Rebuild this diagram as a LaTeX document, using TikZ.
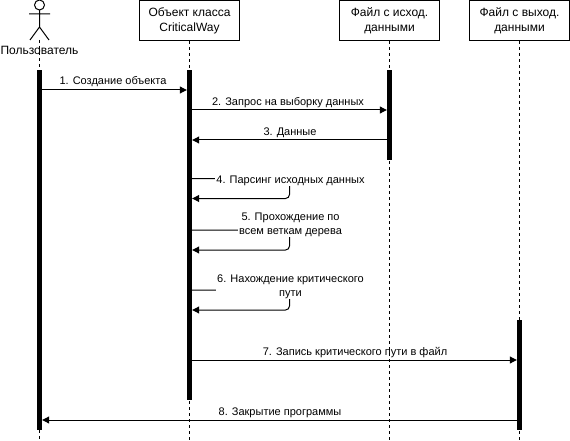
\documentclass[tikz,border=0pt]{standalone}
\usepackage{fontspec}
\setmainfont{Liberation Sans}
\usetikzlibrary{arrows.meta}
\tikzset{
    head/.style={draw, line width=1pt, minimum width=100pt, minimum height=40pt, inner sep=0pt, align=center, font=\fontsize{12}{15}\selectfont},
    lifeline/.style={line width=1pt, dash pattern=on 3pt off 3pt},
    activebar/.style={fill=black, inner sep=0pt, minimum width=5pt},
    msg/.style={line width=1pt, -{Triangle[length=7pt, width=7pt]}},
    msglabel/.style={inner sep=1pt, align=center, font=\fontsize{11}{14}\selectfont}
}
\begin{document}
\begin{tikzpicture}[x=1pt, y=-1pt]
    \useasboundingbox (0,0) rectangle (570,441);

    % Actor
    \draw[line width=1pt] (39.5,5) circle (5pt);
    \draw[line width=1pt] (39.5,10) -- (39.5,27) (29,14) -- (50,14) (30,40) -- (39.5,27) -- (49,40);
    \coordinate (actorFoot) at (39.5,40);

    % Heads
    \node[head] (objHead) at (189.5,20.5) {Объект класса\\CriticalWay};
    \node[head] (inHead) at (389.5,20.5) {Файл с исход.\\данными};
    \node[head] (outHead) at (519.5,20.5) {Файл с выход.\\данными};

    % Lifelines
    \coordinate (userEnd) at (39.5,441);
    \coordinate (objEnd) at (189.5,441);
    \coordinate (inEnd) at (389.5,441);
    \coordinate (outEnd) at (519.5,441);
    \draw[lifeline] (actorFoot) -- (userEnd);
    \draw[lifeline] (objHead) -- (objEnd);
    \draw[lifeline] (inHead) -- (inEnd);
    \draw[lifeline] (outHead) -- (outEnd);

    \node[font=\fontsize{12}{14}\selectfont, inner sep=0pt] (userLabel) at (39.5,50) {Пользователь};

    % Activation bars
    \node[activebar, minimum height=360pt] (userBar) at (39.5,250) {};
    \node[activebar, minimum height=330pt] (objBar) at (189.5,235) {};
    \node[activebar, minimum height=90pt] (inBar) at (389.5,115) {};
    \node[activebar, minimum height=110pt] (outBar) at (519.5,375) {};

    % Straight messages
    \draw[msg] (userBar.east |- 0,90) -- (objBar.west |- 0,90);
    \node[msglabel] (msgOne) at (113,82) {1. Создание объекта};
    \draw[msg] (objBar.east |- 0,110) -- (inBar.west |- 0,110);
    \node[msglabel] (msgTwo) at (288,103) {2. Запрос на выборку данных};
    \draw[msg] (inBar.west |- 0,140) -- (objBar.east |- 0,140);
    \node[msglabel] (msgThree) at (290,133) {3. Данные};
    \draw[msg] (objBar.east |- 0,360) -- (outBar.west |- 0,360);
    \node[msglabel] (msgSeven) at (355,353) {7. Запись критического пути в файл};
    \draw[msg] (outBar.west |- 0,420) -- (userBar.east |- 0,420);
    \node[msglabel] (msgEight) at (280,413) {8. Закрытие программы};

    % Self messages
    \foreach \ya/\yb in {178.5/198.5, 230/250, 290/310} {
        \draw[msg, rounded corners=4pt] (objBar.east |- 0,\ya) -- (289.5,\ya) -- (289.5,\yb) -- (objBar.east |- 0,\yb);
    }
    \node[msglabel, fill=white] (msgFour) at (290.5,180.5) {4. Парсинг исходных данных};
    \node[msglabel, fill=white] (msgFive) at (290.5,224.5) {5. Прохождение по\\всем веткам дерева};
    \node[msglabel, fill=white] (msgSix) at (290.5,286.5) {6. Нахождение критического\\пути};
\end{tikzpicture}
\end{document}
